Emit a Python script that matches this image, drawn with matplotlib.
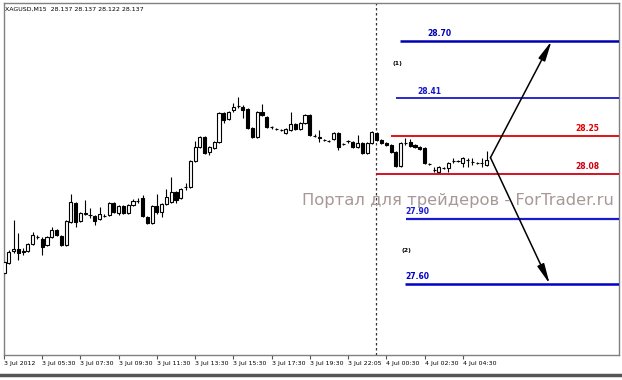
import matplotlib
matplotlib.use("Agg")
import matplotlib.pyplot as plt
import numpy as np

# XAGUSD M15, 3-4 Jul 2012
opens = [27.650, 27.695, 27.750, 27.759, 27.745, 27.750, 27.781, 27.811, 27.804, 27.777,
         27.813, 27.845, 27.818, 27.777, 27.881, 27.967, 27.886, 27.917, 27.913, 27.908,
         27.895, 27.906, 27.913, 27.967, 27.922, 27.953, 27.922, 27.958, 27.974, 27.990,
         27.904, 27.876, 27.953, 27.926, 27.962, 27.971, 28.017, 27.990, 28.037, 28.039,
         28.157, 28.220, 28.266, 28.198, 28.216, 28.243, 28.374, 28.347, 28.388, 28.404,
         28.401, 28.392, 28.306, 28.266, 28.379, 28.356, 28.309, 28.302, 28.297, 28.284,
         28.297, 28.324, 28.302, 28.329, 28.365, 28.270, 28.266, 28.252, 28.248, 28.257,
         28.284, 28.234, 28.245, 28.243, 28.220, 28.238, 28.193, 28.238, 28.284, 28.252,
         28.238, 28.229, 28.198, 28.134, 28.236, 28.243, 28.229, 28.220, 28.216, 28.143,
         28.116, 28.107, 28.123, 28.125, 28.155, 28.157, 28.148, 28.162, 28.152, 28.148,
         28.146, 28.139]
highs = [27.714, 27.754, 27.890, 27.831, 27.763, 27.786, 27.836, 27.822, 27.813, 27.818,
         27.858, 27.849, 27.822, 27.890, 28.008, 27.971, 27.926, 27.981, 27.944, 27.913,
         27.949, 27.917, 27.971, 27.971, 27.958, 27.958, 27.962, 27.985, 27.990, 28.003,
         27.908, 27.958, 28.008, 27.967, 28.030, 28.085, 28.021, 28.035, 28.057, 28.162,
         28.248, 28.270, 28.270, 28.225, 28.248, 28.379, 28.379, 28.383, 28.419, 28.447,
         28.410, 28.397, 28.311, 28.383, 28.415, 28.361, 28.315, 28.306, 28.302, 28.306,
         28.379, 28.329, 28.333, 28.370, 28.370, 28.279, 28.297, 28.257, 28.252, 28.288,
         28.288, 28.238, 28.252, 28.248, 28.275, 28.243, 28.243, 28.293, 28.288, 28.257,
         28.243, 28.234, 28.202, 28.243, 28.261, 28.257, 28.234, 28.225, 28.220, 28.148,
         28.130, 28.134, 28.130, 28.152, 28.171, 28.162, 28.175, 28.171, 28.171, 28.152,
         28.171, 28.202]
lows = [27.637, 27.691, 27.741, 27.709, 27.732, 27.745, 27.777, 27.804, 27.732, 27.772,
        27.809, 27.818, 27.772, 27.772, 27.876, 27.858, 27.881, 27.913, 27.899, 27.867,
        27.890, 27.904, 27.908, 27.922, 27.913, 27.917, 27.917, 27.953, 27.967, 27.904,
        27.872, 27.872, 27.917, 27.904, 27.958, 27.967, 27.967, 27.985, 28.026, 28.035,
        28.152, 28.216, 28.189, 28.184, 28.211, 28.238, 28.329, 28.343, 28.379, 28.397,
        28.352, 28.302, 28.261, 28.261, 28.361, 28.306, 28.302, 28.297, 28.293, 28.279,
        28.293, 28.297, 28.297, 28.324, 28.270, 28.266, 28.243, 28.248, 28.243, 28.252,
        28.207, 28.229, 28.238, 28.216, 28.216, 28.189, 28.189, 28.234, 28.248, 28.234,
        28.225, 28.193, 28.130, 28.130, 28.229, 28.220, 28.216, 28.207, 28.143, 28.139,
        28.107, 28.103, 28.121, 28.107, 28.148, 28.152, 28.130, 28.130, 28.139, 28.143,
        28.130, 28.134]
closes = [27.700, 27.745, 27.759, 27.741, 27.750, 27.781, 27.822, 27.813, 27.768, 27.813,
          27.845, 27.822, 27.777, 27.886, 27.971, 27.881, 27.922, 27.922, 27.910, 27.886,
          27.917, 27.908, 27.967, 27.926, 27.953, 27.922, 27.958, 27.976, 27.976, 27.908,
          27.876, 27.953, 27.926, 27.962, 27.994, 28.017, 27.981, 28.030, 28.039, 28.157,
          28.220, 28.266, 28.193, 28.220, 28.243, 28.374, 28.343, 28.379, 28.401, 28.406,
          28.388, 28.306, 28.266, 28.379, 28.365, 28.311, 28.311, 28.300, 28.295, 28.302,
          28.324, 28.302, 28.329, 28.365, 28.275, 28.268, 28.263, 28.250, 28.245, 28.284,
          28.220, 28.232, 28.248, 28.220, 28.238, 28.193, 28.238, 28.288, 28.252, 28.238,
          28.229, 28.198, 28.134, 28.238, 28.238, 28.225, 28.220, 28.211, 28.148, 28.141,
          28.114, 28.130, 28.125, 28.148, 28.157, 28.155, 28.171, 28.159, 28.150, 28.146,
          28.148, 28.162]

tick_bars = [0, 8, 16, 24, 32, 40, 48, 56, 64, 72, 80, 88, 96]
tick_labels = ["3 Jul 2012", "3 Jul 05:30", "3 Jul 07:30", "3 Jul 09:30", "3 Jul 11:30",
               "3 Jul 13:30", "3 Jul 15:30", "3 Jul 17:30", "3 Jul 19:30", "3 Jul 22:05",
               "4 Jul 00:30", "4 Jul 02:30", "4 Jul 04:30"]

# target levels: where the line sits, where it starts, its label
level_prices = [28.70, 28.44, 28.27, 28.10, 27.895, 27.60]
level_starts = [82.8, 82.0, 81.0, 77.8, 84.1, 83.9]
level_labels = ["28.70", "28.41", "28.25", "28.08", "27.90", "27.60"]
level_colors = ["#0000b4", "#1818c8", "#e00000", "#d00010", "#1a1ad0", "#0000c8"]
level_widths = [1.8, 1.3, 1.3, 1.3, 1.6, 1.8]
label_x = [88.7, 86.6, 119.6, 119.6, 84.0, 84.0]

session_break = 77.8
arrow_start = (101.8, 28.172)
arrow_ends = [(114.6, 28.70), (114.2, 27.60)]

fig = plt.figure(figsize=(6.22, 3.80), dpi=100)
ax = fig.add_axes([3.5 / 622, 25 / 380, 615.5 / 622, 352 / 380])

x = np.arange(len(opens))
o = np.array(opens)
c = np.array(closes)
ax.vlines(x, lows, highs, color="black", lw=0.8, zorder=2)
up = c >= o
body_h = np.maximum(np.abs(c - o), 0.0015)
ax.bar(x[up], body_h[up], bottom=np.minimum(o, c)[up], width=0.65,
       color="white", edgecolor="black", lw=0.8, zorder=3)
ax.bar(x[~up], body_h[~up], bottom=np.minimum(o, c)[~up], width=0.65,
       color="black", edgecolor="black", lw=0.8, zorder=3)

ax.axvline(session_break, color="#333333", lw=0.9, ls=(0, (2, 2)), zorder=1)

for p, s, lab, col, w, lx in zip(level_prices, level_starts, level_labels,
                                 level_colors, level_widths, label_x):
    ax.hlines(p, s, 140, color=col, lw=w, zorder=4)
    ax.text(lx, p + 0.012, lab, color=col, fontsize=5.5, fontweight="bold",
            ha="left", va="bottom", zorder=5)

ax.text(81.2, 28.596, "(1)", fontsize=4.5, fontweight="bold", ha="left", va="center")
ax.text(83.2, 27.750, "(2)", fontsize=4.5, fontweight="bold", ha="left", va="center")

for ex, ey in arrow_ends:
    ax.annotate("", xy=(ex, ey), xytext=arrow_start,
                arrowprops=dict(arrowstyle="-|>,head_length=1.2,head_width=0.22",
                                color="black", lw=1.1, shrinkA=0, shrinkB=0), zorder=6)

ax.text(62.4, 27.976, "Портал для трейдеров - ForTrader.ru", fontsize=11.8,
        color="#a89898", ha="left", va="center", zorder=1)

ax.text(0.3, 28.845, "XAGUSD,M15  28.137 28.137 28.122 28.137", fontsize=4.5,
        ha="left", va="center")

ax.set_xlim(-0.1, 128.7)
ax.set_ylim(27.2783, 28.8720)
ax.set_yticks([])
ax.set_xticks(tick_bars)
ax.set_xticklabels(tick_labels, fontsize=4.5, ha="left")
ax.tick_params(axis="x", length=3, width=0.8, color="#555555", pad=1.5)
for sp in ax.spines.values():
    sp.set_color("#808080")
    sp.set_linewidth(1.0)

# scrollbar strip under the chart
fig.add_artist(plt.Line2D([0, 1], [5 / 380, 5 / 380], color="#555555", lw=2.5))

fig.savefig("out.png", dpi=100, facecolor="white")
